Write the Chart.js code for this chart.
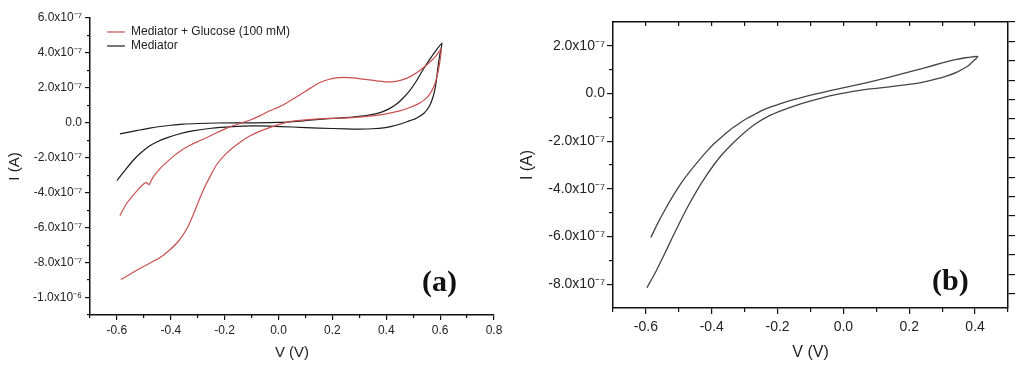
<!DOCTYPE html>
<html lang="en">
<head>
<meta charset="UTF-8" />
<title>Cyclic voltammograms</title>
<script src="https://cdn.jsdelivr.net/npm/chart.js"></script>
<style>
  body { margin: 0; background: #fff; }
  .panel { position: absolute; top: 0; }
  #panelA { left: 0; width: 510px; height: 371px; }
  #panelB { left: 510px; width: 514px; height: 371px; }
  .tag {
    position: absolute;
    font-family: "Liberation Serif", "Times New Roman", serif;
    font-weight: bold;
    font-size: 30px;
    line-height: 30px;
    color: #111;
  }
</style>
</head>
<body>
<div class="panel" id="panelA"><canvas id="chartA" width="510" height="371"></canvas></div>
<div class="panel" id="panelB"><canvas id="chartB" width="514" height="371"></canvas></div>
<div class="tag" style="left:422px; top:266px;">(a)</div>
<div class="tag" style="left:932px; top:265px;">(b)</div>

<script>
// currents are in units of 1e-7 A, potentials in V

// panel (a): mediator + glucose (100 mM)
const glucFwdV = [-0.589, -0.565, -0.541, -0.515, -0.500, -0.489, -0.481, -0.467, -0.440, -0.415, -0.385, -0.356, -0.325, -0.293, -0.260, -0.230, -0.200, -0.170, -0.140, -0.107, -0.070, -0.033, 0.000, 0.030, 0.060, 0.090, 0.120, 0.152, 0.185, 0.214, 0.245, 0.274, 0.305, 0.337, 0.370, 0.400, 0.430, 0.459, 0.490, 0.522, 0.555, 0.585, 0.604];
const glucFwdI = [-5.31, -4.63, -4.17, -3.71, -3.49, -3.43, -3.54, -3.14, -2.62, -2.25, -1.85, -1.52, -1.25, -1.03, -0.80, -0.57, -0.36, -0.17, -0.02, 0.15, 0.40, 0.69, 0.90, 1.14, 1.42, 1.71, 2.00, 2.29, 2.48, 2.57, 2.60, 2.57, 2.52, 2.46, 2.39, 2.34, 2.36, 2.46, 2.66, 2.97, 3.38, 3.83, 4.23];
const glucRevV = [0.600, 0.592, 0.582, 0.568, 0.548, 0.520, 0.485, 0.450, 0.400, 0.340, 0.274, 0.210, 0.152, 0.090, 0.030, 0.000, -0.044, -0.075, -0.107, -0.140, -0.170, -0.200, -0.230, -0.250, -0.270, -0.293, -0.315, -0.340, -0.370, -0.404, -0.440, -0.480, -0.515, -0.550, -0.585];
const glucRevI = [3.60, 2.90, 2.30, 1.80, 1.40, 1.10, 0.86, 0.68, 0.51, 0.38, 0.30, 0.26, 0.23, 0.15, 0.03, -0.10, -0.33, -0.52, -0.76, -1.08, -1.43, -1.85, -2.40, -2.95, -3.55, -4.35, -5.20, -6.05, -6.75, -7.28, -7.71, -8.05, -8.34, -8.65, -8.97];

// panel (a): mediator only
const medFwdV = [-0.589, -0.550, -0.515, -0.478, -0.440, -0.400, -0.356, -0.300, -0.230, -0.100, 0.000, 0.080, 0.152, 0.220, 0.274, 0.330, 0.374, 0.410, 0.437, 0.460, 0.485, 0.510, 0.533, 0.560, 0.585, 0.607];
const medFwdI = [-0.63, -0.52, -0.41, -0.30, -0.21, -0.14, -0.08, -0.04, -0.01, 0.00, 0.02, 0.10, 0.20, 0.27, 0.33, 0.43, 0.57, 0.80, 1.06, 1.38, 1.80, 2.35, 2.95, 3.60, 4.15, 4.57];
const medRevV = [0.600, 0.592, 0.585, 0.575, 0.560, 0.540, 0.510, 0.480, 0.450, 0.420, 0.390, 0.350, 0.300, 0.250, 0.150, 0.050, -0.033, -0.100, -0.170, -0.250, -0.319, -0.370, -0.415, -0.450, -0.478, -0.510, -0.541, -0.570, -0.600];
const medRevI = [4.00, 3.20, 2.30, 1.55, 0.95, 0.55, 0.25, 0.08, -0.08, -0.20, -0.29, -0.34, -0.36, -0.35, -0.30, -0.24, -0.19, -0.18, -0.22, -0.31, -0.46, -0.64, -0.86, -1.08, -1.31, -1.70, -2.17, -2.72, -3.31];

// panel (b)
const bFwdV = [-0.585, -0.565, -0.545, -0.520, -0.494, -0.468, -0.442, -0.418, -0.394, -0.368, -0.342, -0.316, -0.291, -0.266, -0.242, -0.216, -0.191, -0.165, -0.139, -0.090, -0.040, 0.030, 0.100, 0.180, 0.250, 0.300, 0.340, 0.370, 0.392, 0.408];
const bFwdI = [-6.04, -5.47, -4.95, -4.35, -3.78, -3.30, -2.86, -2.47, -2.12, -1.80, -1.50, -1.25, -1.03, -0.85, -0.68, -0.54, -0.42, -0.31, -0.21, -0.04, 0.12, 0.33, 0.55, 0.83, 1.09, 1.28, 1.42, 1.50, 1.54, 1.55];
const bRevV = [0.402, 0.390, 0.376, 0.345, 0.315, 0.280, 0.233, 0.180, 0.133, 0.080, 0.030, -0.020, -0.070, -0.120, -0.170, -0.220, -0.270, -0.310, -0.342, -0.370, -0.394, -0.420, -0.442, -0.470, -0.494, -0.520, -0.545, -0.570, -0.597];
const bRevI = [1.45, 1.30, 1.13, 0.90, 0.74, 0.60, 0.45, 0.35, 0.27, 0.19, 0.09, -0.04, -0.20, -0.39, -0.62, -0.90, -1.30, -1.75, -2.17, -2.58, -3.00, -3.52, -4.00, -4.68, -5.32, -6.05, -6.78, -7.48, -8.15];

const seriesNames = ['Mediator + Glucose (100 mM)', 'Mediator'];

// ticks
const aXMajor = [-0.6, -0.4, -0.2, 0, 0.2, 0.4, 0.6, 0.8];
const aXLabels = ['-0.6', '-0.4', '-0.2', '0.0', '0.2', '0.4', '0.6', '0.8'];
const aXMinor = [-0.7, -0.5, -0.3, -0.1, 0.1, 0.3, 0.5, 0.7];
const aYMajor = [6, 4, 2, 0, -2, -4, -6, -8, -10];
const aYLabels = ['6.0x10⁻⁷', '4.0x10⁻⁷', '2.0x10⁻⁷', '0.0', '-2.0x10⁻⁷', '-4.0x10⁻⁷', '-6.0x10⁻⁷', '-8.0x10⁻⁷', '-1.0x10⁻⁶'];
const aYMinor = [5, 3, 1, -1, -3, -5, -7, -9, -11];

const bXMajor = [-0.6, -0.4, -0.2, 0, 0.2, 0.4];
const bXLabels = ['-0.6', '-0.4', '-0.2', '0.0', '0.2', '0.4'];
const bXMinor = [-0.7, -0.5, -0.3, -0.1, 0.1, 0.3, 0.5];
const bTopTicks = [-0.6, -0.5, -0.4, -0.3, -0.2, -0.1, 0, 0.1, 0.2, 0.3, 0.4];
const bYMajor = [2, 0, -2, -4, -6, -8];
const bYLabels = ['2.0x10⁻⁷', '0.0', '-2.0x10⁻⁷', '-4.0x10⁻⁷', '-6.0x10⁻⁷', '-8.0x10⁻⁷'];
const bYMinor = [1, -1, -3, -5, -7];
const bRightTicks = [0, 1, 2, 3, 4, 5, 6, 7, 8, 9, 10, 11, 12, 13, 14];

Chart.defaults.font.family = '"Liberation Sans", Arial, sans-serif';
Chart.defaults.color = '#222';

const INK = '#111';

function loop(fv, fi, rv, ri) {
  return fv.map((v, k) => ({x: v, y: fi[k]})).concat(rv.map((v, k) => ({x: v, y: ri[k]})));
}

function fixedTicks(values) {
  return s => { s.ticks = values.map(v => ({value: v})); };
}

function fixSize(w, h) {
  return s => {
    if (w !== null) s.width = w;
    if (h !== null) s.height = h;
    s.paddingLeft = 0; s.paddingRight = 0; s.paddingTop = 0; s.paddingBottom = 0;
  };
}

// unlabeled axis of tick marks only, sitting on the plot edge
function markAxis(pos, min, max, values, len, extra) {
  const horiz = pos === 'top' || pos === 'bottom';
  return Object.assign({
    type: 'linear', position: pos, weight: 0, min: min, max: max,
    afterBuildTicks: fixedTicks(values),
    afterFit: horiz ? fixSize(null, 0) : fixSize(0, null),
    ticks: {display: false, autoSkip: false},
    grid: {drawOnChartArea: false, drawTicks: true, tickLength: len, color: INK, lineWidth: 1.2},
    border: {display: false}
  }, extra || {});
}

const nudgeLegend = {
  id: 'nudgeLegend',
  afterLayout(chart, args, opts) {
    if (chart.legend && opts.dx !== undefined) {
      chart.legend.left += opts.dx;
      chart.legend.top += opts.dy;
    }
  }
};

new Chart(document.getElementById('chartA'), {
  type: 'scatter',
  data: {
    datasets: [
      { label: seriesNames[0], data: loop(glucFwdV, glucFwdI, glucRevV, glucRevI),
        showLine: true, borderColor: '#c9504f', borderWidth: 1.2, pointRadius: 0, tension: 0.2 },
      { label: seriesNames[1], data: loop(medFwdV, medFwdI, medRevV, medRevI),
        showLine: true, borderColor: '#1c1c1c', borderWidth: 1.2, pointRadius: 0, tension: 0.2 }
    ]
  },
  options: {
    responsive: false, animation: false, events: [],
    layout: {padding: {left: 0, top: 18, right: 16, bottom: 0}},
    plugins: {
      legend: {
        position: 'chartArea', align: 'start',
        labels: {usePointStyle: true, pointStyle: 'line', pointStyleWidth: 18, boxHeight: 12,
                 font: {size: 12}, color: '#222', padding: 2}
      },
      nudgeLegend: {dx: 15, dy: 24},
      tooltip: {enabled: false}
    },
    scales: {
      x: {
        type: 'linear', position: 'bottom', weight: 1, min: -0.7, max: 0.8,
        afterBuildTicks: fixedTicks(aXMajor), afterFit: fixSize(null, 56),
        ticks: {autoSkip: false, maxRotation: 0, padding: 3, font: {size: 12}, color: '#222',
                callback: v => aXLabels[aXMajor.indexOf(v)]},
        grid: {drawOnChartArea: false, tickLength: 5, color: INK, lineWidth: 1.2},
        border: {display: true, color: INK, width: 1.5},
        title: {display: true, text: 'V (V)', font: {size: 15}, color: '#222', padding: {top: 0, bottom: 9}}
      },
      xMinor: markAxis('bottom', -0.7, 0.8, aXMinor, 3),
      y: {
        type: 'linear', position: 'left', weight: 1, min: -11, max: 6,
        afterBuildTicks: fixedTicks(aYMajor), afterFit: fixSize(90, null),
        ticks: {autoSkip: false, padding: 3, font: {size: 12}, color: '#222',
                callback: v => aYLabels[aYMajor.indexOf(v)]},
        grid: {drawOnChartArea: false, tickLength: 5, color: INK, lineWidth: 1.2},
        border: {display: true, color: INK, width: 1.5},
        title: {display: true, text: 'I (A)', font: {size: 15}, color: '#222', padding: {top: 6, bottom: 0}}
      },
      yMinor: markAxis('left', -11, 6, aYMinor, 3)
    }
  },
  plugins: [nudgeLegend]
});

new Chart(document.getElementById('chartB'), {
  type: 'scatter',
  data: {
    datasets: [
      { label: 'I-V', data: loop(bFwdV, bFwdI, bRevV, bRevI),
        showLine: true, borderColor: '#454545', borderWidth: 1.3, pointRadius: 0, tension: 0.2 }
    ]
  },
  options: {
    responsive: false, animation: false, events: [],
    layout: {padding: {left: 0, top: 22, right: 16, bottom: 0}},
    plugins: {legend: {display: false}, tooltip: {enabled: false}},
    scales: {
      x: {
        type: 'linear', position: 'bottom', weight: 1, min: -0.7, max: 0.5,
        afterBuildTicks: fixedTicks(bXMajor), afterFit: fixSize(null, 63),
        ticks: {autoSkip: false, maxRotation: 0, padding: 5, font: {size: 14}, color: '#222',
                callback: v => bXLabels[bXMajor.indexOf(v)]},
        grid: {drawOnChartArea: false, tickLength: 6, color: INK, lineWidth: 1.2},
        border: {display: true, color: INK, width: 1.5},
        title: {display: true, text: 'V (V)', font: {size: 16}, color: '#222', padding: {top: 0, bottom: 9}}
      },
      xMinor: markAxis('bottom', -0.7, 0.5, bXMinor, 4),
      xTop: markAxis('top', -0.7, 0.5, bTopTicks, -4, {border: {display: true, color: INK, width: 1.5}}),
      y: {
        type: 'linear', position: 'left', weight: 1, min: -9, max: 3,
        afterBuildTicks: fixedTicks(bYMajor), afterFit: fixSize(103, null),
        ticks: {autoSkip: false, padding: 2, font: {size: 14}, color: '#222',
                callback: v => bYLabels[bYMajor.indexOf(v)]},
        grid: {drawOnChartArea: false, tickLength: 6, color: INK, lineWidth: 1.2},
        border: {display: true, color: INK, width: 1.5},
        title: {display: true, text: 'I (A)', font: {size: 16}, color: '#222', padding: {top: 8, bottom: 0}}
      },
      yMinor: markAxis('left', -9, 3, bYMinor, 4),
      yRight: markAxis('right', 0, 14.74, bRightTicks, 7,
        {reverse: true, border: {display: true, color: INK, width: 1.5}})
    }
  }
});
</script>
</body>
</html>
